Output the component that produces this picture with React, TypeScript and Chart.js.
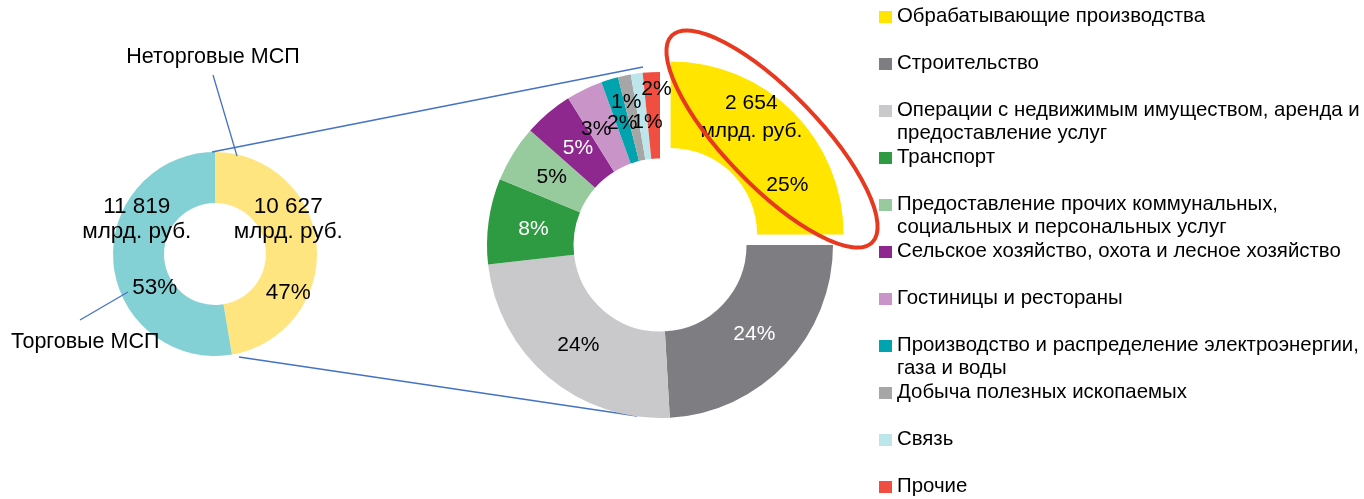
import React, { useEffect, useRef } from "react";
import { Chart, registerables } from "chart.js";

Chart.register(...registerables);

const W = 1364;
const H = 499;
const FONT = '"Liberation Sans", Arial, sans-serif';
const LINE_BLUE = "#4472C4";

// ---- Left donut: SME turnover, bn rub ----
const smeTypes = ["Неторговые МСП", "Торговые МСП"];
const smeValues = [10627, 11819];
const smeColors = ["#FFE580", "#84D1D5"];
const unitText = "млрд. руб.";

// ---- Right donut: non-trade SMEs by industry, share % ----
const industries: string[][] = [
  ["Обрабатывающие производства"],
  ["Строительство"],
  ["Операции с недвижимым имуществом, аренда и", "предоставление услуг"],
  ["Транспорт"],
  ["Предоставление прочих коммунальных,", "социальных и персональных услуг"],
  ["Сельское хозяйство, охота и лесное хозяйство"],
  ["Гостиницы и рестораны"],
  ["Производство и распределение электроэнергии,", "газа и воды"],
  ["Добыча полезных ископаемых"],
  ["Связь"],
  ["Прочие"],
];
const industryShares = [25, 24.1, 24.1, 8, 5.3, 4.6, 3.4, 1.6, 1.2, 1.1, 1.6];
const industryColors = [
  "#FFE500", "#7E7D82", "#C9C9CB", "#2E9A41", "#97CB9D", "#8E278E",
  "#C994C7", "#00A3AE", "#A6A6A6", "#BCE5EC", "#F04E41",
];
const manufacturingValue = 2654;

// ---- label styling / placement (not data) ----
const industryLabelColors = ["#000", "#fff", "#000", "#fff", "#000", "#fff", "#000", "#000", "#000", "#000", "#000"];
const industryPctNudge: [number, number][] = [
  [25, 43], [0, 0], [2, 1], [2, 2], [2, 1], [2, 2], [-7, 1], [0, 2], [-7, -16], [5, 6], [3, -26],
];
const industryValueNudge: [number, number] = [-11, -39];
const smeValueNudge: [number, number][] = [[-3, -41], [-2, -54]];
const smePctNudge: [number, number][] = [[-3, 45], [16, 27]];

const fmt = (v: number) => String(v).replace(/\B(?=(\d{3})+(?!\d))/g, " ");

function arcCenter(arc: any) {
  const { x, y, startAngle, endAngle, innerRadius, outerRadius } = arc;
  const h = (startAngle + endAngle) / 2;
  const off = ((arc.options && arc.options.offset) || 0) / 4;
  const circ = endAngle - startAngle;
  const shift = off * (2 - Math.sin(Math.min(Math.PI, circ)));
  const r = (innerRadius + outerRadius) / 2 + shift;
  return { x: x + Math.cos(h) * r, y: y + Math.sin(h) * r };
}

const leftOverlay = {
  id: "leftOverlay",
  afterDatasetsDraw(chart: any) {
    const ctx = chart.ctx as CanvasRenderingContext2D;
    const meta = chart.getDatasetMeta(0);
    const total = smeValues.reduce((a, b) => a + b, 0);
    ctx.save();
    ctx.fillStyle = "#000";
    ctx.textAlign = "center";
    ctx.textBaseline = "middle";
    ctx.font = `22.5px ${FONT}`;
    meta.data.forEach((arc: any, i: number) => {
      const p = arcCenter(arc);
      const vn = smeValueNudge[i];
      const pn = smePctNudge[i];
      ctx.fillText(fmt(smeValues[i]), p.x + vn[0], p.y + vn[1]);
      ctx.fillText(unitText, p.x + vn[0], p.y + vn[1] + 25);
      ctx.fillText(Math.round((smeValues[i] / total) * 100) + "%", p.x + pn[0], p.y + pn[1]);
    });
    // callout labels
    ctx.font = `21.5px ${FONT}`;
    ctx.fillText(smeTypes[0], 213, 57);
    ctx.textAlign = "left";
    ctx.fillText(smeTypes[1], 11, 342);
    ctx.strokeStyle = LINE_BLUE;
    ctx.lineWidth = 1.3;
    const segs = [
      [213, 75, 237, 156],
      [80, 320, 128, 292],
      [212, 152, 643, 67],
      [239, 357, 637, 416],
    ];
    segs.forEach(([a, b, c, d]) => {
      ctx.beginPath();
      ctx.moveTo(a, b);
      ctx.lineTo(c, d);
      ctx.stroke();
    });
    ctx.restore();
  },
};

const rightOverlay = {
  id: "rightOverlay",
  afterDatasetsDraw(chart: any) {
    const ctx = chart.ctx as CanvasRenderingContext2D;
    const meta = chart.getDatasetMeta(0);
    const total = industryShares.reduce((a, b) => a + b, 0);
    ctx.save();
    ctx.textAlign = "center";
    ctx.textBaseline = "middle";
    ctx.font = `21px ${FONT}`;
    meta.data.forEach((arc: any, i: number) => {
      const p = arcCenter(arc);
      const n = industryPctNudge[i];
      ctx.fillStyle = industryLabelColors[i];
      if (i === 0) {
        ctx.fillText(fmt(manufacturingValue), p.x + industryValueNudge[0], p.y + industryValueNudge[1]);
        ctx.fillText(unitText, p.x + industryValueNudge[0], p.y + industryValueNudge[1] + 28);
      }
      ctx.fillText(Math.round((industryShares[i] / total) * 100) + "%", p.x + n[0], p.y + n[1]);
    });

    // highlight ellipse
    ctx.strokeStyle = "#E8381F";
    ctx.lineWidth = 4;
    ctx.beginPath();
    ctx.ellipse(772, 139, 144, 47, (46 * Math.PI) / 180, 0, Math.PI * 2);
    ctx.stroke();

    // legend
    ctx.textAlign = "left";
    ctx.font = `20.4px ${FONT}`;
    industries.forEach((lines, i) => {
      const rowY = 16 + 47 * i;
      ctx.fillStyle = industryColors[i];
      ctx.fillRect(879, rowY - 5, 13, 12);
      ctx.fillStyle = "#000";
      lines.forEach((line, j) => ctx.fillText(line, 897, rowY + j * 23.5));
    });
    ctx.restore();
  },
};

export default function App() {
  const leftRef = useRef<HTMLCanvasElement>(null);
  const rightRef = useRef<HTMLCanvasElement>(null);

  useEffect(() => {
    const left = new Chart(leftRef.current!, {
      type: "doughnut",
      data: {
        labels: smeTypes,
        datasets: [{ data: smeValues, backgroundColor: smeColors, borderWidth: 0, hoverOffset: 0 }],
      },
      options: {
        responsive: false,
        animation: false,
        events: [],
        cutout: "50%",
        layout: { padding: { left: 113, top: 152, right: W - 317, bottom: H - 356 } },
        plugins: { legend: { display: false }, tooltip: { enabled: false } },
      },
      plugins: [leftOverlay],
    } as any);

    const right = new Chart(rightRef.current!, {
      type: "doughnut",
      data: {
        labels: industries,
        datasets: [
          {
            data: industryShares,
            backgroundColor: industryColors,
            borderWidth: 0,
            hoverOffset: 0,
            offset: industryShares.map((_, i) => (i === 0 ? 60 : 0)),
          },
        ],
      },
      options: {
        responsive: false,
        animation: false,
        events: [],
        cutout: "50%",
        radius: 173,
        layout: { padding: { left: 460, top: 45, right: W - 860, bottom: H - 445 } },
        plugins: { legend: { display: false }, tooltip: { enabled: false } },
      },
      plugins: [rightOverlay],
    } as any);

    return () => {
      left.destroy();
      right.destroy();
    };
  }, []);

  const canvasStyle: React.CSSProperties = { position: "absolute", left: 0, top: 0, width: W, height: H };
  return (
    <div style={{ position: "fixed", left: 0, top: 0, width: W, height: H, background: "#fff" }}>
      <canvas ref={leftRef} width={W} height={H} style={canvasStyle} />
      <canvas ref={rightRef} width={W} height={H} style={canvasStyle} />
    </div>
  );
}
